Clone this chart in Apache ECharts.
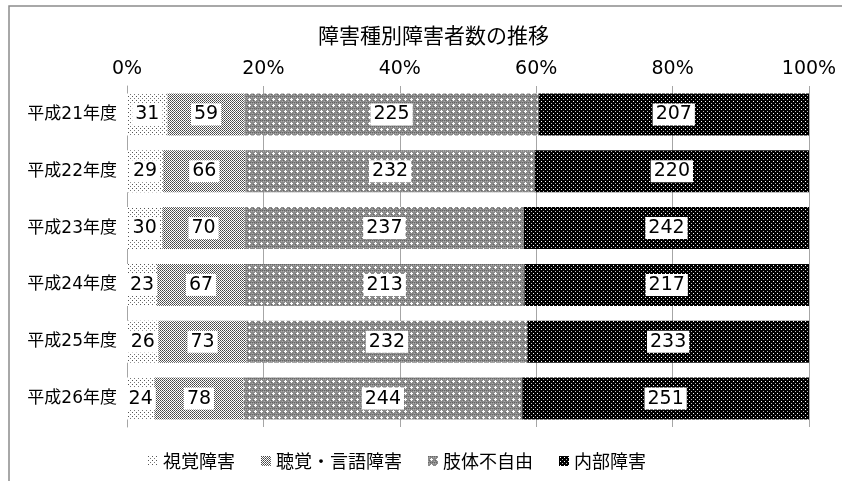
<!DOCTYPE html>
<html>
<head>
<meta charset="utf-8">
<script src="https://cdn.jsdelivr.net/npm/echarts@6/dist/echarts.min.js"></script>
<style>
  html, body { margin: 0; padding: 0; background: #fff; }
  #chart { width: 842px; height: 481px; }
</style>
</head>
<body>
<div id="chart"></div>
<script>
const categories = ['平成21年度', '平成22年度', '平成23年度', '平成24年度', '平成25年度', '平成26年度']
const seriesNames = ['視覚障害', '聴覚・言語障害', '肢体不自由', '内部障害']
const visual = [31, 29, 30, 23, 26, 24]
const hearing = [59, 66, 70, 67, 73, 78]
const physical = [225, 232, 237, 213, 232, 244]
const internal = [207, 220, 242, 217, 233, 251]
const tickLabels = ['0%', '20%', '40%', '60%', '80%', '100%']

// wide latin digits first, CJK falls through to Noto
const FONT = '"DejaVu Sans", "Noto Sans CJK JP", sans-serif'
const CJK = '"Noto Sans CJK JP", sans-serif'

// little canvases used as fill patterns
const makePattern = (size, bg, pixels) => {
  const c = document.createElement('canvas')
  c.width = size
  c.height = size
  const ctx = c.getContext('2d')
  ctx.fillStyle = bg
  ctx.fillRect(0, 0, size, size)
  pixels.forEach(([x, y, col]) => {
    ctx.fillStyle = col
    ctx.fillRect(x, y, 1, 1)
  })
  return { image: c, repeat: 'repeat' }
}

const patterns = [
  makePattern(4, '#ffffff', [[0, 0, '#555'], [2, 2, '#777']]),
  makePattern(2, '#ffffff', [[0, 0, '#444'], [1, 1, '#666']]),
  makePattern(6, '#8a8a8a', [
    [0, 0, '#666'], [2, 0, '#666'], [4, 0, '#666'], [1, 1, '#aaa'], [5, 1, '#aaa'],
    [3, 2, '#fff'], [2, 3, '#fff'], [3, 3, '#fff'], [4, 3, '#fff'], [3, 4, '#fff'],
    [0, 5, '#aaa'], [1, 4, '#666']
  ]),
  makePattern(4, '#000000', [[1, 1, '#ffffff'], [3, 3, '#bbbbbb']])
]

const rows = [visual, hearing, physical, internal]
const totals = categories.map((_, i) => rows.reduce((s, r) => s + r[i], 0))

const chart = echarts.init(document.getElementById('chart'))
chart.setOption({
  animation: false,
  backgroundColor: '#fff',
  title: {
    text: '障害種別障害者数の推移',
    left: 313,
    top: 20,
    textStyle: { fontFamily: CJK, fontSize: 21, fontWeight: 'normal', color: '#000' }
  },
  graphic: [{
    type: 'rect',
    shape: { x: 9, y: 6, width: 900, height: 520 },
    style: { fill: 'none', stroke: '#8c8c8c', lineWidth: 1.5 },
    silent: true
  }],
  legend: {
    bottom: 6,
    left: 143,
    itemWidth: 10,
    itemHeight: 10,
    itemGap: 26,
    icon: 'rect',
    textStyle: { fontFamily: CJK, fontSize: 18, color: '#000' },
    data: seriesNames
  },
  grid: { left: 127, right: 33, top: 86, height: 341, containLabel: false },
  xAxis: {
    type: 'value',
    position: 'top',
    min: 0,
    max: 100,
    interval: 20,
    axisLine: { show: false },
    axisTick: { show: false },
    axisLabel: {
      margin: 7,
      fontFamily: FONT,
      fontSize: 19,
      color: '#000',
      formatter: (v) => tickLabels[Math.round(v / 20)]
    },
    splitLine: { show: true, lineStyle: { color: '#a6a6a6', width: 1 } }
  },
  yAxis: {
    type: 'category',
    inverse: true,
    data: categories,
    axisLine: { show: true, lineStyle: { color: '#a6a6a6' } },
    axisTick: { show: false },
    axisLabel: { margin: 10, fontFamily: FONT, fontSize: 17, color: '#000' }
  },
  series: seriesNames.map((name, k) => ({
    name,
    type: 'bar',
    stack: 'total',
    barCategoryGap: '26%',
    itemStyle: { color: patterns[k] },
    label: {
      show: true,
      position: 'inside',
      fontFamily: FONT,
      fontSize: 19,
      color: '#000',
      backgroundColor: '#fff',
      padding: [2, 3, 1, 3],
      formatter: (p) => p.data.raw
    },
    data: rows[k].map((v, i) => ({ value: v / totals[i] * 100, raw: v }))
  }))
})
</script>
</body>
</html>
